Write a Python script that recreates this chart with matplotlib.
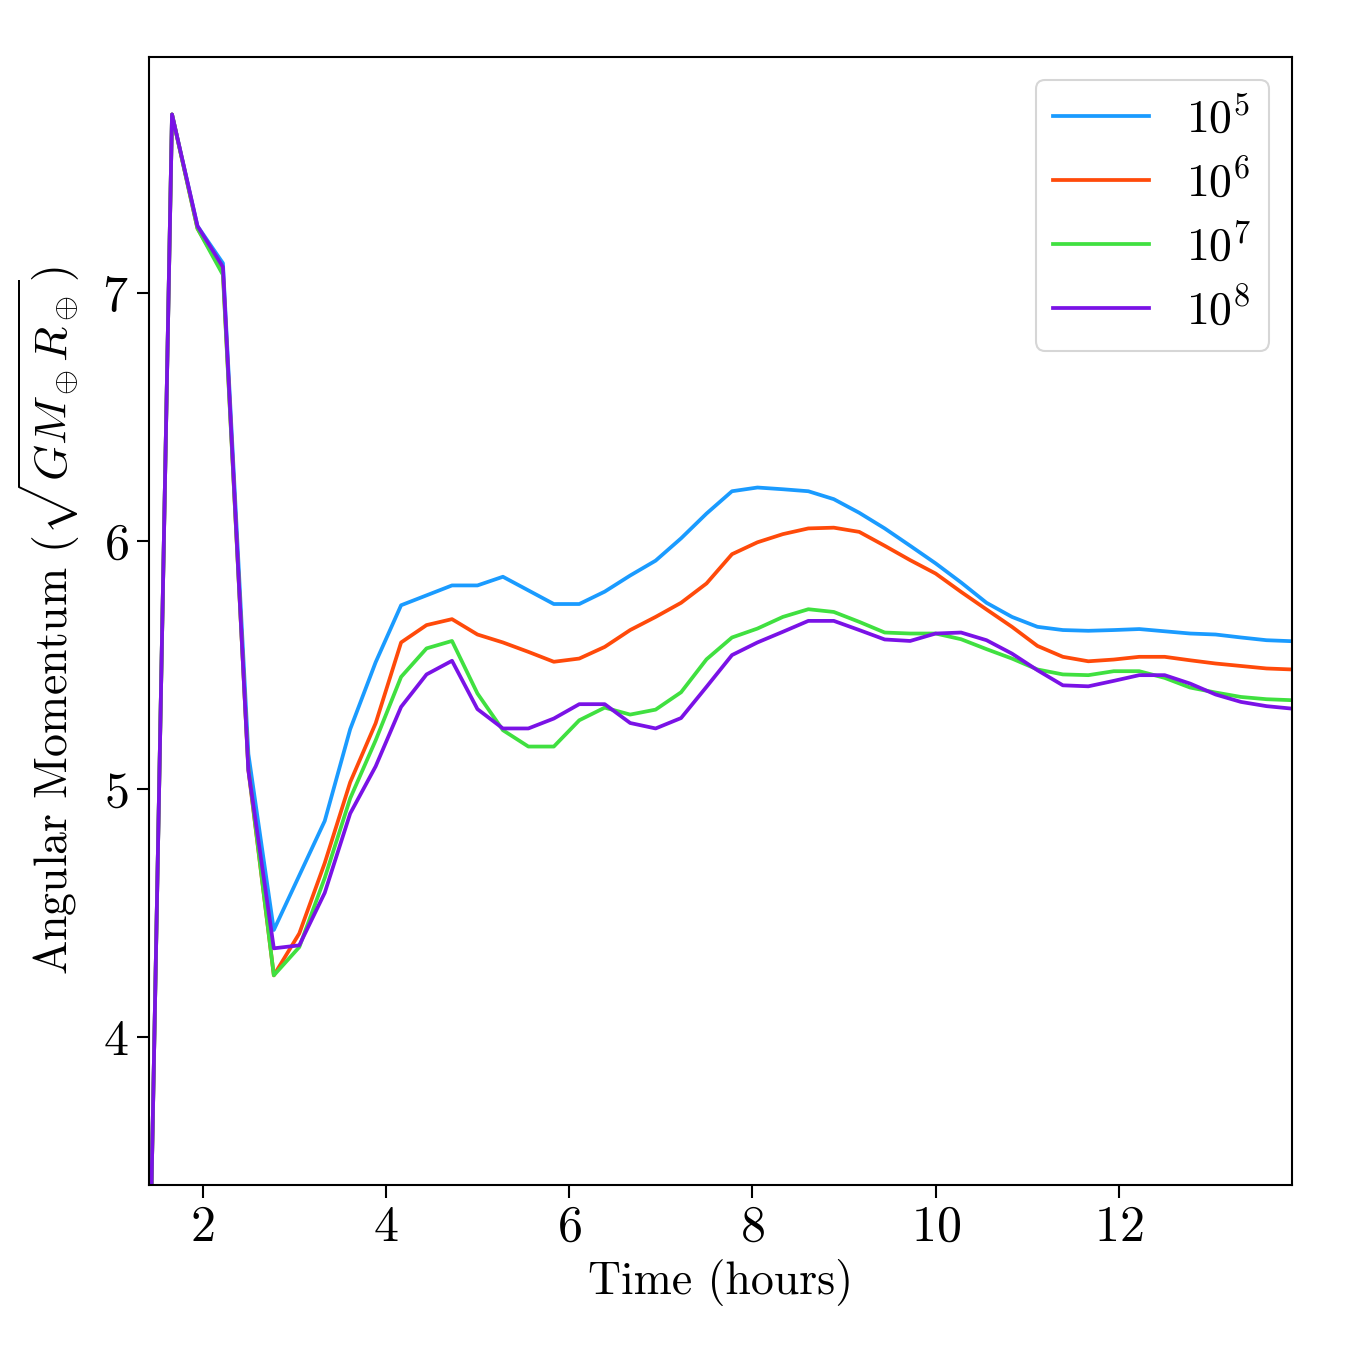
import numpy as np
import matplotlib
matplotlib.use("Agg")
import matplotlib.pyplot as plt

plt.rcParams["font.family"] = "serif"
plt.rcParams["font.serif"] = ["cmr10"]
plt.rcParams["mathtext.fontset"] = "cm"
plt.rcParams["axes.formatter.use_mathtext"] = True
plt.rcParams["font.size"] = 22

# time in seconds, one sample every 1000 s
t_sec = np.arange(5000, 50001, 1000)
t_hours = t_sec / 3600.0

L_1e5 = [2.35, 7.72, 7.27, 7.12, 5.14, 4.43, 4.65, 4.87, 5.24, 5.51,
         5.74, 5.78, 5.82, 5.82, 5.855, 5.80, 5.745, 5.745, 5.795, 5.86,
         5.92, 6.01, 6.11, 6.20, 6.215, 6.208, 6.20, 6.168, 6.113, 6.05,
         5.98, 5.909, 5.832, 5.75, 5.693, 5.653, 5.64, 5.637, 5.64, 5.644,
         5.635, 5.626, 5.622, 5.61, 5.599, 5.595]
L_1e6 = [2.35, 7.72, 7.26, 7.085, 5.075, 4.247, 4.416, 4.70, 5.026, 5.264,
         5.59, 5.66, 5.684, 5.622, 5.59, 5.552, 5.512, 5.525, 5.572, 5.64,
         5.693, 5.75, 5.828, 5.946, 5.994, 6.027, 6.05, 6.053, 6.036, 5.98,
         5.922, 5.868, 5.794, 5.723, 5.653, 5.576, 5.532, 5.514, 5.521, 5.532,
         5.532, 5.518, 5.505, 5.495, 5.485, 5.481]
L_1e7 = [2.35, 7.72, 7.26, 7.073, 5.082, 4.247, 4.361, 4.64, 4.961, 5.195,
         5.451, 5.566, 5.596, 5.384, 5.236, 5.17, 5.17, 5.276, 5.327, 5.299,
         5.319, 5.389, 5.522, 5.61, 5.646, 5.693, 5.724, 5.713, 5.673, 5.63,
         5.626, 5.626, 5.603, 5.563, 5.525, 5.481, 5.461, 5.458, 5.474, 5.474,
         5.447, 5.408, 5.388, 5.37, 5.361, 5.357]
L_1e8 = [2.35, 7.72, 7.27, 7.105, 5.074, 4.356, 4.368, 4.58, 4.90, 5.09,
         5.33, 5.461, 5.516, 5.321, 5.243, 5.243, 5.283, 5.341, 5.341, 5.265,
         5.243, 5.285, 5.411, 5.539, 5.59, 5.633, 5.677, 5.677, 5.64, 5.602,
         5.596, 5.626, 5.63, 5.599, 5.545, 5.478, 5.417, 5.413, 5.435, 5.458,
         5.458, 5.424, 5.38, 5.35, 5.333, 5.323]

labels = [r"$10^5$", r"$10^6$", r"$10^7$", r"$10^8$"]
colors = ["#1a9bff", "#ff4a0a", "#40e040", "#7a12e6"]

fig, ax = plt.subplots(figsize=(9, 9), dpi=150)
for L, lab, c in zip([L_1e5, L_1e6, L_1e7, L_1e8], labels, colors):
    ax.plot(t_hours, L, color=c, lw=1.8, label=lab)

ax.set_xlim(1.41, t_hours[-1])
ax.set_ylim(3.4, 7.953)
ax.set_xticks([2, 4, 6, 8, 10, 12])
ax.set_yticks([4, 5, 6, 7])
ax.tick_params(length=6, width=1.0, labelsize=24)
for s in ax.spines.values():
    s.set_linewidth(1.0)

ax.set_xlabel("Time (hours)", labelpad=4)
ax.set_ylabel(r"Angular Momentum $(\sqrt{GM_\oplus R_\oplus})$", labelpad=10)
ax.legend(loc="upper right", borderpad=0.38, handlelength=2.1, handletextpad=0.8,
          labelspacing=0.4, borderaxespad=0.5)

plt.subplots_adjust(left=0.110, right=0.957, top=0.958, bottom=0.122)
plt.savefig("out.png")
